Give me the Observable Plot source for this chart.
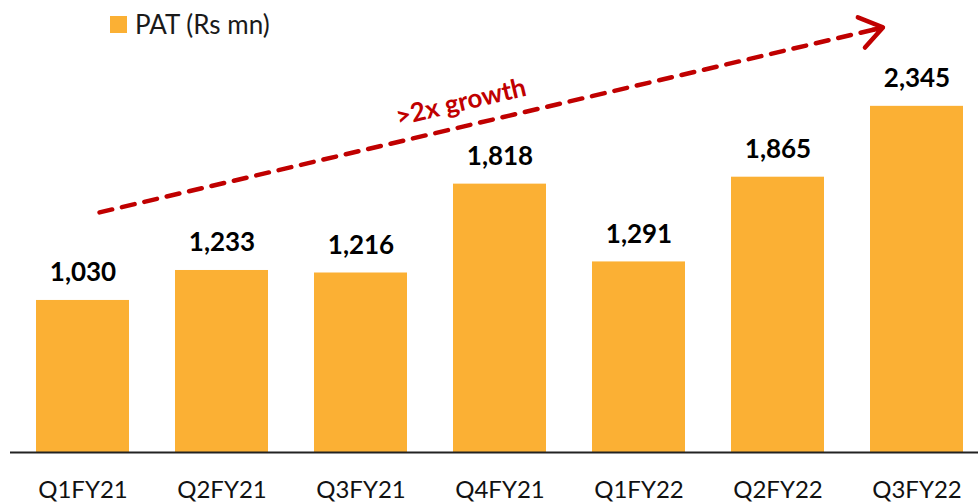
<!DOCTYPE html>
<html>
<head>
<meta charset="utf-8">
<script src="https://cdn.jsdelivr.net/npm/d3@7"></script>
<script src="https://cdn.jsdelivr.net/npm/@observablehq/plot@0.6"></script>
<style>
  html, body { margin: 0; padding: 0; background: #fff; }
  #wrap { position: relative; width: 978px; height: 503px; font-family: Lato, "Open Sans", sans-serif; }
  #legend { position: absolute; left: 110px; top: 8px; display: flex; align-items: center; font-size: 26px; color: #1a1a1a; }
  #legend .sw { width: 17px; height: 17px; background: #FBB034; margin-right: 8px; }
  svg { display: block; }
</style>
</head>
<body>
<div id="wrap">
  <div id="chart"></div>
  <div id="legend"><span class="sw"></span><span>PAT (Rs mn)</span></div>
</div>
<script>
const quarters = ["Q1FY21", "Q2FY21", "Q3FY21", "Q4FY21", "Q1FY22", "Q2FY22", "Q3FY22"];
const pat = [1030, 1233, 1216, 1818, 1291, 1865, 2345];
const seriesName = "PAT (Rs mn)";
const arrowFrom = ["Q1FY21", 1600];
const arrowTo = ["Q3FY22", 2934];
const growthLabel = [">2x growth"];
const growthAt = ["Q4FY21", 2371];

const barColor = "#FBB034";
const red = "#C00000";

const data = quarters.map((q, i) => ({quarter: q, value: pat[i]}));
const arrowData = [{x1: arrowFrom[0], y1: arrowFrom[1], x2: arrowTo[0], y2: arrowTo[1]}];
const fmt = d3.format(",");

const chart = Plot.plot({
  width: 978,
  height: 503,
  marginTop: 0,
  marginBottom: 51,
  marginLeft: 10,
  marginRight: 0,
  style: {fontFamily: "Lato, 'Open Sans', sans-serif", background: "#fff"},
  x: {domain: quarters, range: [20, 978], paddingInner: 0.332, paddingOuter: 0.108, label: null},
  y: {domain: [0, 3062], axis: null},
  marks: [
    Plot.barY(data, {x: "quarter", y: "value", fill: barColor}),
    Plot.ruleY([0], {stroke: "#222", strokeWidth: 1.8}),
    Plot.axisX({tickSize: 0, tickPadding: 28, fontSize: 24, fill: "#111", label: null}),
    Plot.text(data, {x: "quarter", y: "value", text: d => fmt(d.value), lineAnchor: "bottom", dy: -19, fontSize: 26, fontWeight: "bold", fill: "#000"}),
    // dashed shaft
    Plot.arrow(arrowData, {
      x1: "x1", y1: "y1", x2: "x2", y2: "y2",
      insetStart: 17, insetEnd: 40, headLength: 0,
      stroke: red, strokeWidth: 4.5, strokeDasharray: "13,10", strokeLinecap: "round"
    }),
    // solid head
    Plot.arrow(arrowData, {
      x1: "x1", y1: "y1", x2: "x2", y2: "y2",
      insetStart: 812, insetEnd: 35, headLength: 9, headAngle: 70,
      stroke: red, strokeWidth: 4.5, strokeLinecap: "round", strokeLinejoin: "round"
    }),
    Plot.text(growthLabel, {x: () => growthAt[0], y: () => growthAt[1], text: d => d, dx: -39, rotate: -13.3, fontSize: 26, fontWeight: "bold", fill: red})
  ]
});
document.getElementById("chart").appendChild(chart);
</script>
</body>
</html>
